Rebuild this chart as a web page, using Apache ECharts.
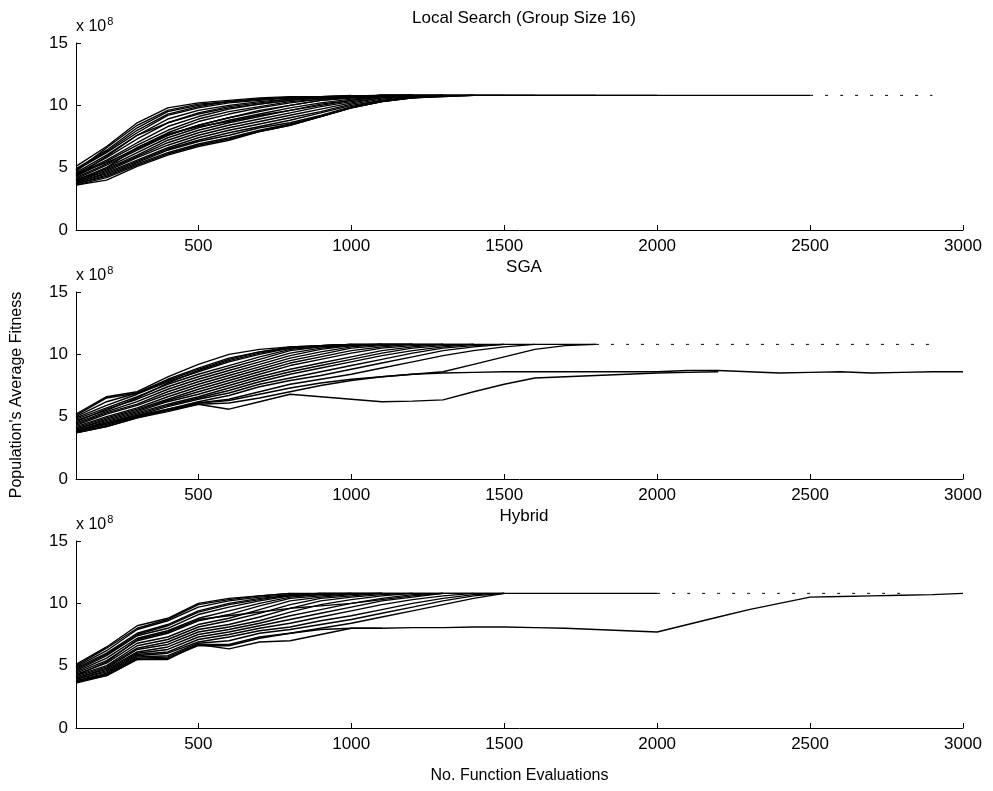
<!DOCTYPE html>
<html><head><meta charset="utf-8">
<script src="https://cdn.jsdelivr.net/npm/echarts@6/dist/echarts.min.js"></script>
<style>html,body{margin:0;padding:0;background:#fff}#c{width:993px;height:791px}</style>
</head><body><div id="c"></div>
<script>
// Function evaluations (x) at which every run was sampled
const evals = [100,200,300,400,500,600,700,800,900,1000,1100,1200,1300,1400,1500,1600,1700,1800,1900,2000,2100,2200,2300,2400,2500,2600,2700,2800,2900,3000];
const xTickLabels = [500,1000,1500,2000,2500,3000];
const yTickLabels = [0,5,10,15];
const panelTitles = ['Local Search (Group Size 16)','SGA','Hybrid'];
const xAxisTitle = 'No. Function Evaluations';
const yAxisTitle = "Population's Average Fitness";
const yScaleNote = 'x 10{s|8}';

// Population average fitness (x 10^8) per run, starting at 100 evaluations
const localSearchRuns = [
  [5.1,6.7,8.6,9.8,10.2,10.4,10.6,10.7,10.7,10.75,10.8,10.8,10.8,10.8,10.8,10.8,10.8,10.8,10.8,10.8],
  [4.9,6.4,8.2,9.5,10.0,10.3,10.5,10.6,10.7,10.7,10.8,10.8,10.8,10.8,10.8,10.8,10.8,10.8],
  [4.8,6.2,7.8,9.2,9.8,10.2,10.4,10.6,10.7,10.7,10.8,10.8,10.8,10.8,10.8,10.8],
  [4.6,6.0,7.6,8.9,9.6,10.0,10.3,10.5,10.6,10.7,10.75,10.8,10.8,10.8],
  [4.5,5.8,7.3,8.6,9.4,9.9,10.2,10.5,10.6,10.7,10.8,10.8,10.8],
  [4.4,5.6,7.0,8.3,9.1,9.7,10.1,10.4,10.6,10.7,10.8,10.8],
  [4.3,5.5,6.8,8.0,8.9,9.5,9.9,10.3,10.5,10.7,10.8,10.8],
  [4.2,5.3,6.6,7.8,8.7,9.3,9.8,10.2,10.5,10.6,10.8,10.8],
  [4.1,5.2,6.4,7.6,8.4,9.0,9.5,10.0,10.4,10.6,10.75,10.8],
  [4.0,5.0,6.2,7.4,8.2,8.8,9.3,9.8,10.2,10.5,10.7,10.8],
  [4.0,4.9,6.0,7.2,8.0,8.6,9.1,9.6,10.1,10.4,10.7,10.8],
  [3.9,4.8,5.9,7.0,7.8,8.4,8.9,9.4,9.9,10.3,10.6,10.8],
  [3.9,4.7,5.8,6.8,7.6,8.2,8.7,9.2,9.7,10.2,10.6,10.75,10.8],
  [3.8,4.6,5.6,6.6,7.4,8.0,8.5,9.0,9.5,10.1,10.5,10.7,10.8],
  [3.8,4.5,5.5,6.5,7.2,7.8,8.3,8.8,9.4,10.0,10.4,10.7,10.8],
  [3.7,4.4,5.4,6.4,7.1,7.6,8.2,8.6,9.2,9.9,10.4,10.6,10.8],
  [3.7,4.3,5.3,6.2,6.9,7.4,8.0,8.5,9.1,9.8,10.3,10.6,10.75,10.8],
  [3.6,4.2,5.2,6.1,6.8,7.3,7.9,8.4,9.1,9.8,10.3,10.6,10.7,10.8],
  [3.6,4.0,5.1,6.0,6.7,7.2,7.9,8.4,9.1,9.8,10.3,10.6,10.7,10.8,10.8],
  [4.7,6.6,8.4,9.6,10.1,10.3,10.5,10.6,10.7,10.8],
  [4.3,5.9,7.6,8.6,9.3,9.8,10.1,10.4,10.6,10.7,10.8],
  [3.9,5.0,6.6,7.7,8.3,8.7,9.2,9.6,10.0,10.4,10.7,10.8],
  [4.5,5.4,6.5,7.6,8.4,9.0,9.6,10.0,10.4,10.6,10.75,10.8],
  [4.8,6.3,8.0,9.3,9.9,10.3,10.5,10.65,10.7,10.75,10.8,10.8,10.8,10.8,10.8,10.8,10.8,10.8,10.8,10.8,10.8,10.8,10.8,10.8,10.8]
];
const localSearchTailEvals = [2500,2600,2700,2800,2900];
const localSearchTail = [10.8,10.8,10.8,10.8,10.8];

const sgaRuns = [
  [5.2,6.6,7.0,8.2,9.2,10.0,10.4,10.6,10.7,10.75,10.8,10.8,10.8,10.8,10.8,10.8,10.8,10.8],
  [5.0,6.2,6.9,8.0,8.9,9.7,10.2,10.6,10.7,10.8,10.8,10.8,10.8,10.8],
  [4.9,5.9,6.8,7.8,8.6,9.4,10.0,10.5,10.7,10.8,10.8],
  [4.8,5.7,6.6,7.6,8.4,9.1,9.8,10.4,10.6,10.75,10.8,10.8],
  [4.6,5.6,6.4,7.4,8.2,8.9,9.6,10.3,10.6,10.7,10.8],
  [4.5,5.4,6.2,7.2,8.0,8.7,9.4,10.1,10.5,10.7,10.8,10.8],
  [4.4,5.3,6.0,7.0,7.8,8.5,9.2,9.9,10.4,10.7,10.8],
  [4.3,5.2,5.9,6.8,7.6,8.3,9.0,9.7,10.2,10.6,10.8,10.8],
  [4.2,5.0,5.7,6.6,7.4,8.1,8.8,9.5,10.0,10.5,10.7,10.8],
  [4.1,4.9,5.6,6.4,7.2,7.9,8.6,9.3,9.8,10.3,10.6,10.8,10.8],
  [4.0,4.8,5.5,6.3,7.0,7.7,8.4,9.1,9.6,10.1,10.5,10.7,10.8],
  [4.0,4.7,5.4,6.2,6.8,7.5,8.2,8.8,9.3,9.8,10.3,10.6,10.8],
  [3.9,4.6,5.3,6.0,6.6,7.3,8.0,8.6,9.1,9.6,10.1,10.5,10.7,10.8],
  [3.9,4.5,5.2,5.9,6.5,7.1,7.8,8.4,8.9,9.4,9.9,10.3,10.6,10.8],
  [3.8,4.5,5.1,5.8,6.4,6.9,7.6,8.1,8.6,9.1,9.6,10.1,10.5,10.7,10.8],
  [3.8,4.4,5.0,5.6,6.2,6.7,7.4,7.9,8.3,8.8,9.3,9.8,10.3,10.6,10.8],
  [3.7,4.3,5.0,5.5,6.1,6.4,7.0,7.6,8.0,8.4,8.9,9.4,9.9,10.3,10.6,10.8],
  [3.8,4.4,5.1,5.6,6.1,6.3,6.8,7.3,7.7,8.0,8.2,8.4,8.6,9.2,9.8,10.4,10.7,10.8],
  [3.7,4.2,4.9,5.5,6.0,6.1,6.5,7.0,7.5,7.9,8.2,8.4,8.5,8.55,8.6,8.6,8.6,8.6,8.6,8.6,8.7,8.7,8.6,8.5,8.55,8.6,8.5,8.55,8.6,8.6],
  [3.7,4.2,4.9,5.4,6.0,5.6,6.2,6.8,6.6,6.4,6.2,6.25,6.35,7.0,7.6,8.1,8.2,8.3,8.4,8.5,8.55,8.6],
  [5.1,6.5,6.9,7.9,8.8,9.6,10.2,10.5,10.7,10.8],
  [4.7,5.5,6.5,7.7,8.7,9.5,10.1,10.5,10.7,10.8,10.8]
];
const sgaTailEvals = [1800,1900,2000,2100,2200,2300,2400,2500,2600,2700,2800,2900];
const sgaTail = [10.8,10.8,10.8,10.8,10.8,10.8,10.8,10.8,10.8,10.8,10.8,10.8];

const hybridRuns = [
  [5.1,6.5,8.2,8.8,10.0,10.4,10.6,10.8,10.8,10.8,10.8,10.8,10.8,10.8,10.8,10.8,10.8,10.8,10.8,10.8],
  [4.9,6.2,7.9,8.6,9.7,10.2,10.5,10.7,10.8,10.8,10.8,10.8,10.8,10.8,10.8],
  [4.8,6.0,7.6,8.3,9.4,10.0,10.4,10.6,10.8,10.8],
  [4.6,5.8,7.4,8.0,9.1,9.7,10.2,10.6,10.7,10.8],
  [4.5,5.6,7.2,7.8,8.8,9.4,10.0,10.5,10.7,10.8,10.8],
  [4.4,5.4,7.0,7.6,8.6,9.1,9.8,10.4,10.6,10.75,10.8],
  [4.3,5.2,6.8,7.3,8.3,8.8,9.5,10.2,10.5,10.7,10.8],
  [4.2,5.0,6.6,7.1,8.1,8.6,9.2,9.9,10.4,10.6,10.8],
  [4.1,4.9,6.4,6.9,7.9,8.3,8.9,9.6,10.2,10.5,10.7,10.8],
  [4.0,4.8,6.3,6.7,7.7,8.1,8.6,9.3,9.9,10.3,10.6,10.8],
  [4.0,4.7,6.1,6.5,7.5,7.9,8.4,9.0,9.5,10.0,10.4,10.7,10.8],
  [3.9,4.6,6.0,6.3,7.3,7.7,8.2,8.7,9.2,9.7,10.2,10.5,10.8],
  [3.9,4.5,5.9,6.1,7.1,7.5,8.0,8.4,8.9,9.4,9.9,10.3,10.6,10.8],
  [3.8,4.4,5.8,6.0,6.9,7.3,7.8,8.1,8.6,9.0,9.5,10.0,10.4,10.7,10.8],
  [3.8,4.3,5.7,5.8,6.8,7.0,7.6,7.9,8.3,8.7,9.2,9.7,10.2,10.6,10.8],
  [3.7,4.3,5.6,5.7,6.7,6.7,7.3,7.6,8.0,8.4,8.9,9.4,9.9,10.4,10.8],
  [3.7,4.2,5.5,5.6,6.6,6.6,7.2,7.6,7.9,8.0,8.0,8.05,8.05,8.1,8.1,8.05,8.0,7.9,7.8,7.7,8.3,8.9,9.5,10.0,10.5,10.55,10.6,10.65,10.7,10.8],
  [3.6,4.2,5.5,5.5,6.7,6.35,6.9,7.0,7.5,8.0,8.0],
  [5.0,6.4,8.0,8.7,9.9,10.3,10.6,10.8],
  [4.7,5.9,7.5,8.2,9.3,9.9,10.3,10.7,10.8],
  [4.2,5.3,7.1,7.7,8.7,9.0,9.3,9.6,9.8,10.0,10.3,10.6,10.8]
];
const hybridTailEvals = [2000,2100,2200,2300,2400,2500,2600,2700,2800];
const hybridTail = [10.8,10.8,10.8,10.8,10.8,10.8,10.8,10.8,10.8];

const FONT = 'Liberation Sans, Arial, Helvetica, sans-serif';
const FS = 17;
const chart = echarts.init(document.getElementById('c'));
const gridTops = [43, 292, 541];
const gridH = 187;

const grids = gridTops.map(t => ({left: 76, right: 30, top: t, height: gridH}));
const xAxes = gridTops.map((t, i) => ({
  gridIndex: i, type: 'value', min: 100, max: 3000,
  axisLine: {show: true, lineStyle: {color: '#000', width: 1}},
  axisTick: {show: true, inside: true, length: 5, customValues: xTickLabels, lineStyle: {color: '#000'}},
  axisLabel: {show: true, customValues: xTickLabels, color: '#000', fontSize: FS, fontFamily: FONT, margin: 8,
    formatter: v => String(v)},
  splitLine: {show: false},
  name: i === 2 ? xAxisTitle : '', nameLocation: 'middle', nameGap: 40,
  nameTextStyle: {color: '#000', fontSize: FS - 1, fontFamily: FONT}
}));
const yAxes = gridTops.map((t, i) => ({
  gridIndex: i, type: 'value', min: 0, max: 15, interval: 5,
  axisLine: {show: true, lineStyle: {color: '#000', width: 1}},
  axisTick: {show: true, inside: true, length: 5, lineStyle: {color: '#000'}},
  axisLabel: {color: '#000', fontSize: FS, fontFamily: FONT, margin: 8,
    formatter: v => yTickLabels.includes(v) ? String(v) : ''},
  splitLine: {show: false},
  name: yScaleNote, nameLocation: 'end', nameGap: 6,
  nameTextStyle: {color: '#000', fontSize: FS - 1, fontFamily: FONT, align: 'left', verticalAlign: 'bottom',
    rich: {s: {fontSize: 11, fontFamily: FONT, color: '#000', verticalAlign: 'top', padding: [0, 0, 10, 1]}}}
}));

const series = [];
function addRuns(runs, gi) {
  runs.forEach(r => series.push({
    type: 'line', xAxisIndex: gi, yAxisIndex: gi, showSymbol: false, silent: true,
    lineStyle: {color: '#000', width: 1.4}, data: r.map((v, k) => [evals[k], v])
  }));
}
function addTail(ev, vals, gi) {
  series.push({type: 'line', xAxisIndex: gi, yAxisIndex: gi, showSymbol: false, silent: true,
    lineStyle: {color: '#000', width: 1, type: [3, 12]}, data: vals.map((v, k) => [ev[k], v])});
}
addRuns(localSearchRuns, 0); addTail(localSearchTailEvals, localSearchTail, 0);
addRuns(sgaRuns, 1); addTail(sgaTailEvals, sgaTail, 1);
addRuns(hybridRuns, 2); addTail(hybridTailEvals, hybridTail, 2);

const titleTops = [5, 254, 503];
chart.setOption({
  animation: false,
  backgroundColor: '#fff',
  title: panelTitles.map((t, i) => ({text: t, left: 519, top: titleTops[i], textAlign: 'center',
    textStyle: {color: '#000', fontSize: FS, fontWeight: 'normal', fontFamily: FONT}})),
  grid: grids, xAxis: xAxes, yAxis: yAxes, series: series,
  graphic: [{type: 'text', x: 17, y: 395, rotation: Math.PI / 2,
    style: {text: yAxisTitle, fill: '#000', font: (FS - 1) + 'px ' + FONT, textAlign: 'center', textVerticalAlign: 'middle'}}]
});
</script></body></html>
